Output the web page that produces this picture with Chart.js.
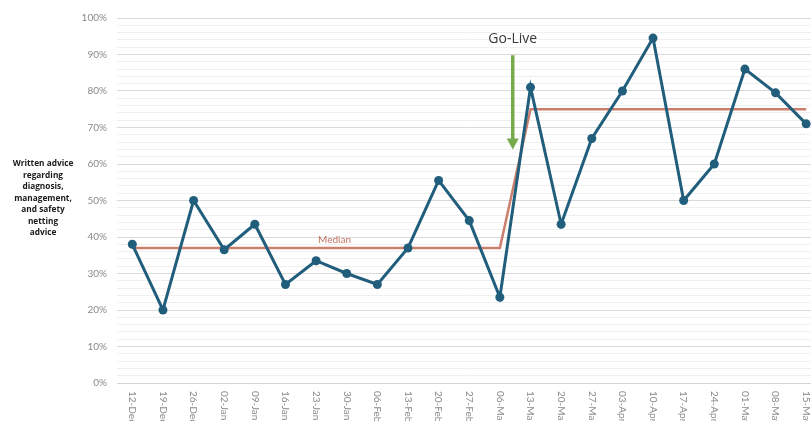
<!DOCTYPE html>
<html>
<head>
<meta charset="utf-8">
<script src="https://cdn.jsdelivr.net/npm/chart.js@4.4.1/dist/chart.umd.min.js"></script>
<style>
  html, body { margin: 0; padding: 0; background: #ffffff; }
  #wrap { position: relative; width: 811px; height: 421px; overflow: hidden; background: #fff; }
  #chart { position: absolute; left: 0; top: 0; }
  #ytitle {
    position: absolute; left: 0px; top: 157px; width: 86px;
    text-align: center; font-family: "Open Sans", sans-serif; font-weight: 700;
    font-size: 8.3px; line-height: 11.5px; color: #1a1a1a;
  }
</style>
</head>
<body>
<div id="wrap">
  <canvas id="chart" width="826" height="421"></canvas>
  <div id="ytitle">Written advice<br>regarding<br>diagnosis,<br>management,<br>and safety<br>netting<br>advice</div>
</div>
<script>
// Weekly audit dates
const weeks = ['12-Dec','19-Dec','26-Dec','02-Jan','09-Jan','16-Jan','23-Jan','30-Jan','06-Feb','13-Feb',
  '20-Feb','27-Feb','06-Mar','13-Mar','20-Mar','27-Mar','03-Apr','10-Apr','17-Apr','24-Apr',
  '01-May','08-May','15-May'];

// Share of notes with written advice (%)
const adviceRate = [38, 20, 50, 36.5, 43.5, 27, 33.5, 30, 27, 37,
  55.5, 44.5, 23.5, 81, 43.5, 67, 80, 94.5, 50, 60,
  86, 79.5, 71];

// Median before and after go-live (%)
const medianRate = [37, 37, 37, 37, 37, 37, 37, 37, 37, 37, 37, 37, 37,
  75, 75, 75, 75, 75, 75, 75, 75, 75, 75];

// Y-axis tick values that carry a label
const yLabelTicks = [0, 10, 20, 30, 40, 50, 60, 70, 80, 90, 100];

const TICK_FONT = '10px Lato, "Open Sans", sans-serif';
const TICK_COLOR = '#8a8a8a';

// Vertical (top-to-bottom) category labels, Go-Live marker and Median caption
const annotations = {
  id: 'annotations',
  afterDraw(chart) {
    const ctx = chart.ctx;
    const xs = chart.scales.x;
    const ys = chart.scales.y;

    // category labels rotated clockwise
    ctx.save();
    ctx.font = TICK_FONT;
    ctx.fillStyle = TICK_COLOR;
    ctx.textAlign = 'left';
    ctx.textBaseline = 'middle';
    weeks.forEach((w, i) => {
      const x = xs.getPixelForValue(i);
      ctx.save();
      ctx.translate(x, chart.chartArea.bottom + 8);
      ctx.rotate(Math.PI / 2);
      ctx.fillText(w, 0, 0);
      ctx.restore();
    });
    ctx.restore();

    // Median caption
    ctx.save();
    ctx.font = '10px Lato, "Open Sans", sans-serif';
    ctx.fillStyle = '#c57565';
    ctx.textAlign = 'center';
    ctx.textBaseline = 'middle';
    ctx.fillText('Median', xs.getPixelForValue(6.6), ys.getPixelForValue(39.2));
    ctx.restore();

    // Go-Live arrow
    const ax = xs.getPixelForValue(12.42);
    const yTop = ys.getPixelForValue(89.8);
    const yTip = ys.getPixelForValue(64);
    ctx.save();
    ctx.strokeStyle = '#76ab4b';
    ctx.fillStyle = '#76ab4b';
    ctx.lineWidth = 3.5;
    ctx.beginPath();
    ctx.moveTo(ax, yTop);
    ctx.lineTo(ax, yTip - 9);
    ctx.stroke();
    ctx.beginPath();
    ctx.moveTo(ax - 6, yTip - 11);
    ctx.lineTo(ax + 6, yTip - 11);
    ctx.lineTo(ax, yTip);
    ctx.closePath();
    ctx.fill();

    ctx.font = '14px "Open Sans", sans-serif';
    ctx.fillStyle = '#3a3a3a';
    ctx.textAlign = 'center';
    ctx.textBaseline = 'middle';
    ctx.fillText('Go-Live', ax, ys.getPixelForValue(94.2));
    ctx.restore();
  }
};

new Chart(document.getElementById('chart'), {
  type: 'line',
  data: {
    labels: weeks,
    datasets: [
      {
        label: 'Written advice',
        data: adviceRate,
        borderColor: '#215e7c',
        backgroundColor: '#215e7c',
        borderWidth: 3,
        pointRadius: 4.5,
        pointHoverRadius: 4.5,
        pointBorderWidth: 0,
        tension: 0
      },
      {
        label: 'Median',
        data: medianRate,
        borderColor: '#cd7f6e',
        borderWidth: 2.5,
        pointRadius: 0,
        tension: 0
      }
    ]
  },
  options: {
    responsive: false,
    animation: false,
    layout: { padding: { top: 18, right: 3, left: 0, bottom: 0 } },
    plugins: { legend: { display: false }, tooltip: { enabled: false } },
    scales: {
      x: {
        type: 'category',
        offset: true,
        grid: { display: false, drawTicks: false },
        border: { display: true, color: '#d4d4d4', width: 1 },
        ticks: { display: false },
        afterFit(s) { s.height = 38; }
      },
      y: {
        min: 0,
        max: 100,
        grid: {
          drawTicks: false,
          color: c => (yLabelTicks.includes(c.tick.value) ? '#dadada' : '#efefef'),
          lineWidth: 1
        },
        border: { display: false },
        ticks: {
          stepSize: 2,
          autoSkip: false,
          padding: 10,
          font: { family: 'Lato, "Open Sans", sans-serif', size: 10 },
          color: TICK_COLOR,
          callback: v => (yLabelTicks.includes(v) ? v + '%' : '')
        },
        afterFit(s) { s.width = 117; }
      }
    }
  },
  plugins: [annotations]
});
</script>
</body>
</html>
